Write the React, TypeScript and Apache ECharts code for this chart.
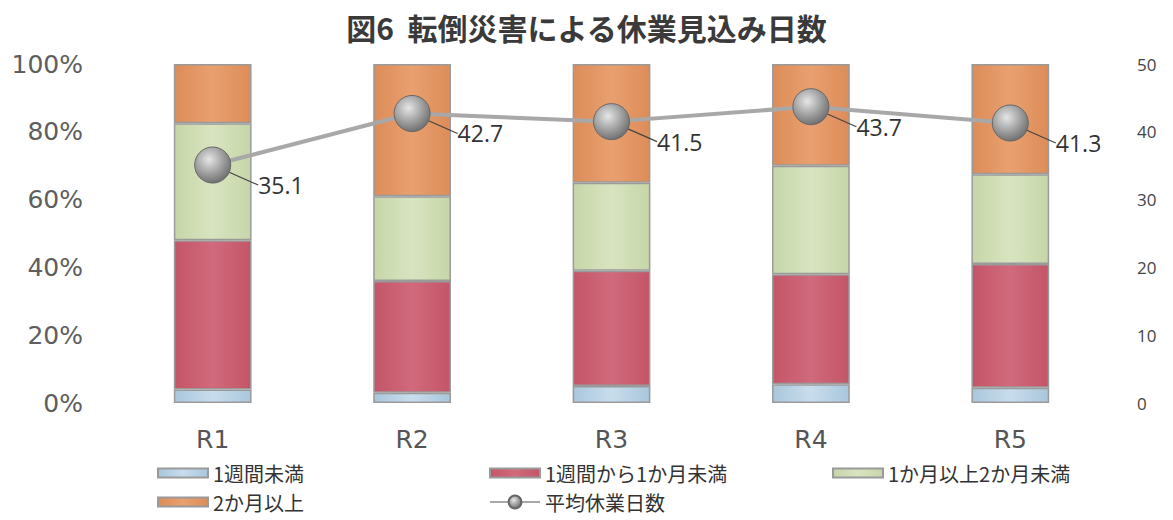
import React, { useEffect, useRef } from "react";
import * as echarts from "echarts";

// Fiscal years
const categories = ["R1", "R2", "R3", "R4", "R5"];

// Share of cases by expected days off (%)
const underOneWeek = [4, 3, 5, 5.5, 4.5];
const oneWeekToOneMonth = [44, 33, 34, 32.5, 36.5];
const oneToTwoMonths = [34.5, 25, 26, 32, 26.5];
const twoMonthsOrMore = [17.5, 39, 35, 30, 32.5];

// Average expected days off
const averageDays = [35.1, 42.7, 41.5, 43.7, 41.3];

const leftTicks = [0, 20, 40, 60, 80, 100];
const rightTicks = [0, 10, 20, 30, 40, 50];

const FONT = "'DejaVu Sans', 'Open Sans', sans-serif";
const LABEL_FONT = "'Open Sans', sans-serif";
const CJK = "'Noto Sans CJK JP', sans-serif";

function bevel(top: string, mid: string) {
  return new echarts.graphic.LinearGradient(0, 0, 1, 0, [
    { offset: 0, color: mid },
    { offset: 0.5, color: top },
    { offset: 1, color: mid },
  ]);
}

export default function App() {
  const ref = useRef<HTMLDivElement>(null);

  useEffect(() => {
    if (!ref.current) return;
    const chart = echarts.init(ref.current, null, { renderer: "svg" });

    const barSeries = (name: string, data: number[], fill: any) => ({
      name,
      type: "bar",
      stack: "share",
      yAxisIndex: 0,
      barWidth: "39%",
      data,
      itemStyle: { color: fill, borderColor: "#9a9a9a", borderWidth: 1.5 },
    });

    const legendText = { fontFamily: CJK, fontSize: 20, color: "#333" };
    const rectIcon = "rect";

    chart.setOption({
      animation: false,
      backgroundColor: "#ffffff",
      title: {
        text: "図6  転倒災害による休業見込み日数",
        left: "center",
        top: 7,
        textStyle: { fontFamily: CJK, fontSize: 30, fontWeight: "bold", color: "#3a3a3a" },
      },
      grid: { left: 113, right: 63, top: 64, bottom: 117 },
      legend: [
        {
          left: 155, top: 461, padding: 2, itemWidth: 50, itemHeight: 9,
          icon: rectIcon, textStyle: legendText, data: ["1週間未満"],
        },
        {
          left: 487, top: 461, padding: 2, itemWidth: 50, itemHeight: 9,
          icon: rectIcon, textStyle: legendText, data: ["1週間から1か月未満"],
        },
        {
          left: 830, top: 461, padding: 2, itemWidth: 50, itemHeight: 9,
          icon: rectIcon, textStyle: legendText, data: ["1か月以上2か月未満"],
        },
        {
          left: 155, top: 490, padding: 2, itemWidth: 50, itemHeight: 9,
          icon: rectIcon, textStyle: legendText, data: ["2か月以上"],
        },
        {
          left: 487, top: 490, padding: 2, itemWidth: 50, itemHeight: 16,
          textStyle: legendText, data: ["平均休業日数"],
        },
      ],
      xAxis: {
        type: "category",
        data: categories,
        axisLine: { show: false },
        axisTick: { show: false },
        axisLabel: { fontFamily: FONT, fontSize: 25, color: "#555", margin: 24 },
      },
      yAxis: [
        {
          type: "value",
          min: 0,
          max: 100,
          interval: 20,
          splitLine: { show: false },
          axisLine: { show: false },
          axisTick: { show: false },
          axisLabel: {
            formatter: (v: number) => (leftTicks.includes(v) ? `${v}%` : ""),
            fontFamily: FONT,
            fontSize: 25,
            color: "#5e5e5e",
            margin: 30,
          },
        },
        {
          type: "value",
          min: 0,
          max: 50,
          interval: 10,
          position: "right",
          splitLine: { show: false },
          axisLine: { show: false },
          axisTick: { show: false },
          axisLabel: {
            formatter: (v: number) => (rightTicks.includes(v) ? `${v}` : ""),
            fontFamily: LABEL_FONT,
            fontSize: 17,
            color: "#444",
            margin: 27,
          },
        },
      ],
      series: [
        barSeries("1週間未満", underOneWeek, bevel("#c9ddec", "#a9c6dc")),
        barSeries("1週間から1か月未満", oneWeekToOneMonth, bevel("#d06a7c", "#c45568")),
        barSeries("1か月以上2か月未満", oneToTwoMonths, bevel("#d8e4c0", "#c6d6a8")),
        barSeries("2か月以上", twoMonthsOrMore, bevel("#e9a070", "#dc8c58")),
        {
          name: "平均休業日数",
          type: "line",
          yAxisIndex: 1,
          data: averageDays,
          symbol: "circle",
          symbolSize: 36,
          lineStyle: { color: "#a8a8a8", width: 4 },
          itemStyle: {
            color: new echarts.graphic.RadialGradient(0.4, 0.35, 0.7, [
              { offset: 0, color: "#e6e6e6" },
              { offset: 0.6, color: "#9a9a9a" },
              { offset: 1, color: "#6a6a6a" },
            ]),
            borderColor: "#666",
            borderWidth: 1,
          },
          label: {
            show: true,
            position: "right",
            fontFamily: LABEL_FONT,
            fontSize: 23,
            color: "#333",
            formatter: (p: any) => p.value.toFixed(1),
          },
          labelLayout: { dx: 22, dy: 20 },
          labelLine: { show: true, lineStyle: { color: "#444", width: 1.2 } },
          z: 5,
        },
      ],
    });

    return () => chart.dispose();
  }, []);

  return (
    <div
      ref={ref}
      style={{ position: "fixed", left: 0, top: 0, width: 1173, height: 520 }}
    />
  );
}
